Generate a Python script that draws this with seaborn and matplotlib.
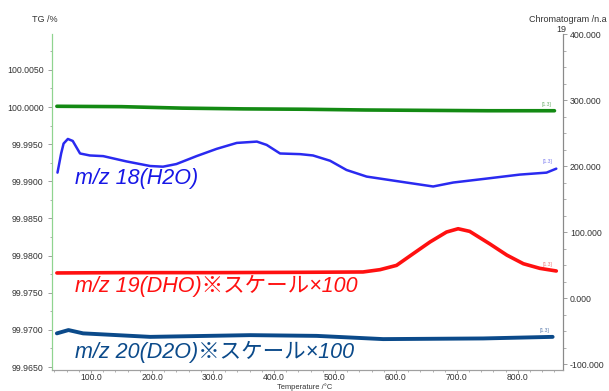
import matplotlib
matplotlib.use("Agg")
import matplotlib.pyplot as plt
import matplotlib.ticker as mticker
import pandas as pd
import seaborn as sns

# TG curve (left axis, %)
tg_temp = [44, 150, 250, 350, 450, 550, 650, 750, 860]
tg_val = [100.0001, 100.00005, 99.99985, 99.99975, 99.9997, 99.9996, 99.99955, 99.9995, 99.9995]

# m/z 18 (H2O), right axis
h2o_temp = [45, 51, 55, 62, 70, 82, 98, 120, 158, 197, 218, 240, 273, 306, 339, 372,
            388, 410, 443, 464, 492, 519, 552, 617, 661, 694, 749, 803, 847, 863]
h2o_val = [190, 219, 234, 241, 238, 219, 216, 215, 207, 200, 199, 203, 215, 226, 235, 237,
           232, 219, 218, 216, 208, 194, 184, 175, 169, 175, 181, 187, 190, 196]

# m/z 19 (DHO) x100, right axis
dho_temp = [44, 150, 300, 450, 546, 574, 601, 628, 656, 683, 702, 721, 754, 782, 809, 836, 863]
dho_val = [38, 38.5, 38.5, 39, 39.5, 43, 49.5, 67, 85, 100, 105, 101, 82, 65, 52, 45, 41]

# m/z 20 (D2O) x100, right axis
d2o_temp = [44, 63, 87, 197, 361, 470, 579, 743, 857]
d2o_val = [-53.5, -48.5, -53.5, -58.8, -56.2, -57.3, -62.2, -61.2, -58.8]

left_ticks = [99.965, 99.970, 99.975, 99.980, 99.985, 99.990, 99.995, 100.000, 100.005]
right_ticks = [-100, 0, 100, 200, 300, 400]
x_ticks = [100, 200, 300, 400, 500, 600, 700, 800]

tg = pd.DataFrame({"T": tg_temp, "v": tg_val})
h2o = pd.DataFrame({"T": h2o_temp, "v": h2o_val})
dho = pd.DataFrame({"T": dho_temp, "v": dho_val})
d2o = pd.DataFrame({"T": d2o_temp, "v": d2o_val})

sns.set_style("white")
plt.rcParams["font.family"] = ["Liberation Sans", "Noto Sans CJK JP", "DejaVu Sans"]

fig = plt.figure(figsize=(6.09, 3.91), dpi=100)
ax = fig.add_axes([52 / 609, 21 / 391, 511 / 609, 336 / 391])
ax2 = ax.twinx()

green = "#138a13"
blue = "#2a2af0"
red = "#ff1010"
navy = "#0b4a8a"

sns.lineplot(data=tg, x="T", y="v", ax=ax, color=green, lw=2.6)
sns.lineplot(data=h2o, x="T", y="v", ax=ax2, color=blue, lw=1.8)
sns.lineplot(data=dho, x="T", y="v", ax=ax2, color=red, lw=2.6)
sns.lineplot(data=d2o, x="T", y="v", ax=ax2, color=navy, lw=2.8)

ax.set_xlim(36, 874)
ax.set_ylim(99.96460, 100.00983)
ax2.set_ylim(-109, 398.5)

ax.set_xticks(x_ticks)
ax.set_xticklabels([f"{t:.1f}" for t in x_ticks])
ax.xaxis.set_minor_locator(mticker.MultipleLocator(20))
ax.set_yticks(left_ticks)
ax.set_yticklabels([f"{t:.4f}" for t in left_ticks])
ax.yaxis.set_minor_locator(mticker.MultipleLocator(0.0025))
ax2.set_yticks(right_ticks)
ax2.set_yticklabels([f"{t:.3f}" for t in right_ticks])
ax2.yaxis.set_minor_locator(mticker.MultipleLocator(25))

for a in (ax, ax2):
    a.set_xlabel("")
    a.set_ylabel("")
    a.spines["top"].set_visible(False)
    a.spines["bottom"].set_color("#a0a0a0")
    a.spines["left"].set_color("#8fd48f")
    a.spines["right"].set_color("#8a8a8a")

ax.tick_params(axis="x", which="major", labelsize=6.2, labelcolor="#333333",
               color="#909090", length=2, width=0.6, direction="out", pad=0.3,
               bottom=True)
ax.tick_params(axis="y", which="major", labelsize=6.3, labelcolor="#333333",
               color="#909090", length=3, width=0.6, direction="out", pad=3,
               left=True)
ax.tick_params(axis="both", which="minor", color="#909090", length=1.4, width=0.5,
               direction="out", left=True, bottom=True)
ax2.tick_params(axis="y", which="major", labelsize=6.3, labelcolor="#333333",
                color="#909090", length=3, width=0.6, direction="out", pad=2, right=True)
ax2.tick_params(axis="y", which="minor", color="#909090", length=1.8, width=0.5,
                direction="out", right=True)

# axis titles
fig.text(45 / 609, 1 - 19 / 391, "TG /%", fontsize=6.5, color="#333333",
         ha="center", va="center")
fig.text(607 / 609, 1 - 19 / 391, "Chromatogram /n.a", fontsize=6.5,
         color="#333333", ha="right", va="center")
fig.text(566 / 609, 1 - 29 / 391, "19", fontsize=6.5, color="#333333",
         ha="right", va="center")
fig.text(305 / 609, 0.0, "Temperature /°C", fontsize=5.4,
         color="#333333", ha="center", va="bottom")

# series labels
lab = dict(fontsize=15.5, style="italic", va="center", ha="left")
ax2.text(74, 181, "m/z 18(H2O)", color="#1717e6", **lab)
ax2.text(74, 18, "m/z 19(DHO)※スケール×100", color=red, **lab)
ax2.text(74, -82, "m/z 20(D2O)※スケール×100", color=navy, **lab)

# small end markers
small = dict(fontsize=3.6, ha="center", va="bottom", textcoords="offset points")
ax.annotate("[1.3]", (tg_temp[-1], tg_val[-1]), xytext=(-6, 3), color="#70b070", **small)
ax2.annotate("[1.3]", (h2o_temp[-1], h2o_val[-1]), xytext=(-6, 3), color="#8080f0", **small)
ax2.annotate("[1.3]", (dho_temp[-1], dho_val[-1]), xytext=(-6, 3), color="#f08080", **small)
ax2.annotate("[1.3]", (d2o_temp[-1], d2o_val[-1]), xytext=(-6, 3), color="#6080b0", **small)

fig.savefig("out.png", dpi=100)
